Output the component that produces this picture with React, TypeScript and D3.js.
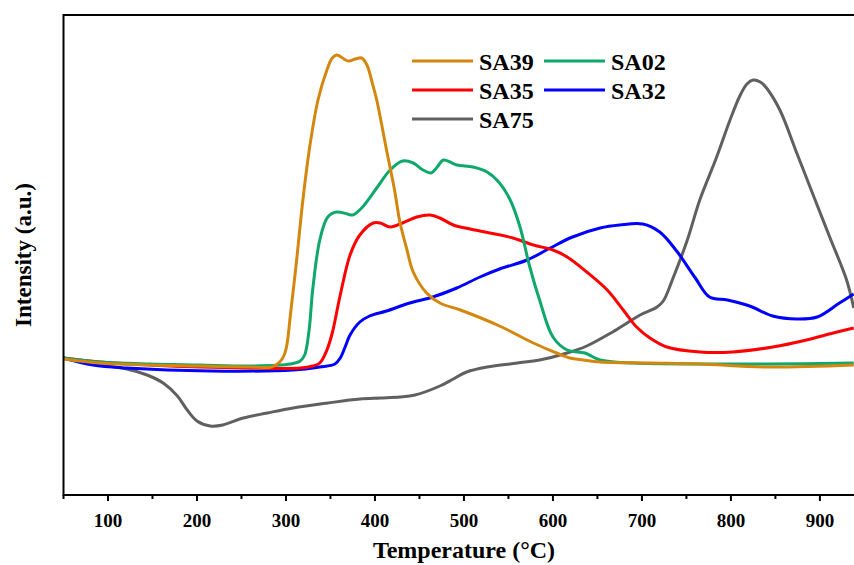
import React, { useEffect, useRef } from 'react';
import * as d3 from 'd3';

// TPR profiles, temperature in °C, intensity in arbitrary units
const series = ['SA39', 'SA02', 'SA35', 'SA32', 'SA75'];
const colors = { SA39: '#D4870E', SA02: '#0DA86A', SA35: '#FF0000', SA32: '#0000FF', SA75: '#606060' };

const sa39T = [50, 91, 147, 203, 260, 284, 293, 298, 301, 305, 312, 319, 327, 336, 346, 352, 357, 370, 378, 385, 391, 397, 402, 413, 422, 428, 436, 443, 458, 473, 496, 540, 578, 604, 619, 634, 653, 709, 765, 840, 938];
const sa39I = [136, 132, 130, 129, 128, 128, 133, 140, 150, 180, 235, 295, 350, 395, 425, 437, 440, 434, 436, 437, 430, 412, 395, 345, 305, 273, 245, 223, 202, 192, 185, 169, 152, 142, 137, 135, 133, 132, 131, 128, 130];

const sa02T = [50, 91, 147, 203, 260, 305, 316, 321, 326, 330, 338, 347, 357, 369, 375, 385, 402, 417, 431, 443, 454, 463, 470, 477, 492, 510, 526, 540, 552, 563, 574, 585, 600, 616, 636, 653, 690, 765, 840, 938];
const sa02I = [137, 133, 131, 130, 129, 131, 134, 140, 165, 205, 255, 278, 283, 281, 280, 287, 307, 325, 334, 332, 325, 322, 328, 335, 330, 328, 323, 312, 295, 268, 228, 195, 158, 145, 142, 135, 132, 131, 131, 132];

const sa35T = [50, 91, 147, 203, 260, 316, 330, 338, 346, 352, 361, 372, 383, 398, 406, 417, 431, 447, 462, 473, 488, 507, 529, 555, 578, 600, 616, 638, 661, 679, 694, 709, 728, 765, 802, 847, 885, 915, 938];
const sa35I = [137, 133, 130, 128, 127, 127, 129, 132, 145, 162, 200, 240, 260, 272, 272, 268, 272, 278, 280, 277, 270, 266, 262, 257, 250, 245, 238, 223, 205, 185, 168, 157, 148, 143, 143, 148, 155, 162, 167];

const sa32T = [50, 83, 121, 215, 308, 338, 355, 361, 366, 372, 383, 394, 413, 439, 465, 492, 518, 540, 571, 597, 622, 653, 675, 701, 720, 739, 760, 776, 796, 821, 847, 874, 897, 922, 938];
const sa32I = [137, 130, 127, 124, 125, 128, 131, 137, 147, 160, 173, 179, 184, 192, 198, 207, 218, 226, 235, 247, 258, 267, 270, 271, 263, 244, 217, 198, 195, 189, 179, 176, 178, 192, 201];

const sa75T = [50, 83, 121, 144, 162, 178, 189, 200, 215, 229, 252, 279, 308, 347, 383, 406, 428, 445, 473, 488, 503, 526, 560, 585, 616, 638, 667, 698, 717, 724, 735, 751, 765, 784, 799, 810, 818, 825, 833, 840, 855, 874, 892, 911, 930, 938];
const sa75I = [137, 131, 126, 120, 112, 99, 85, 74, 69, 70, 77, 82, 87, 92, 96, 97, 98, 100, 109, 116, 123, 128, 132, 135, 142, 149, 163, 180, 188, 194, 217, 255, 295, 338, 375, 399, 411, 415, 413, 407, 385, 342, 301, 258, 215, 187];

const xTicks = [100, 200, 300, 400, 500, 600, 700, 800, 900];
const xMinorTicks = [50, 150, 250, 350, 450, 550, 650, 750, 850];

const dataBy = {
  SA39: [sa39T, sa39I],
  SA02: [sa02T, sa02I],
  SA35: [sa35T, sa35I],
  SA32: [sa32T, sa32I],
  SA75: [sa75T, sa75I],
};

const W = 854;
const H = 565;
const margin = { left: 63.5, top: 15, right: -1.5, bottom: 70 };
const font = '"Times New Roman", "Liberation Serif", serif';

export default function App() {
  const ref = useRef(null);

  useEffect(() => {
    const svg = d3.select(ref.current);
    svg.selectAll('*').remove();

    const x = d3.scaleLinear().domain([50, 940]).range([margin.left, W - margin.right]);
    const y = d3.scaleLinear().domain([0, 480]).range([H - margin.bottom, margin.top]);
    const x0 = margin.left;
    const x1 = W;
    const y0 = H - margin.bottom;
    const y1 = margin.top;

    svg.append('clipPath').attr('id', 'plot-clip')
      .append('rect').attr('x', x0).attr('y', y1).attr('width', x1 - x0).attr('height', y0 - y1);

    const line = d3.line()
      .x(d => x(d[0]))
      .y(d => y(d[1]))
      .curve(d3.curveCatmullRom.alpha(0.5));

    // draw order: gray at the back, orange on top
    const drawOrder = ['SA75', 'SA32', 'SA35', 'SA02', 'SA39'];
    const curves = svg.append('g').attr('clip-path', 'url(#plot-clip)');
    drawOrder.forEach(name => {
      const [ts, is] = dataBy[name];
      const pts = ts.map((t, i) => [t, is[i]]);
      curves.append('path')
        .attr('d', line(pts))
        .attr('fill', 'none')
        .attr('stroke', colors[name])
        .attr('stroke-width', 3)
        .attr('stroke-linejoin', 'round');
    });

    // frame (left, top, bottom)
    const frame = svg.append('g').attr('stroke', '#000').attr('stroke-width', 2).attr('fill', 'none');
    frame.append('path').attr('d', `M${x1},${y1}H${x0}V${y0}H${x1}`).attr('stroke-linecap', 'square');

    frame.selectAll('.major').data(xTicks).join('line')
      .attr('x1', d => x(d)).attr('x2', d => x(d))
      .attr('y1', y0).attr('y2', y0 + 6);
    frame.selectAll('.minor').data(xMinorTicks).join('line')
      .attr('class', 'minor')
      .attr('x1', d => x(d)).attr('x2', d => x(d))
      .attr('y1', y0).attr('y2', y0 + 4);

    svg.append('g').selectAll('text').data(xTicks).join('text')
      .attr('x', d => x(d))
      .attr('y', y0 + 32)
      .attr('text-anchor', 'middle')
      .attr('font-family', font)
      .attr('font-weight', 'bold')
      .attr('font-size', 19)
      .text(d => d);

    svg.append('text')
      .attr('x', 464)
      .attr('y', 558)
      .attr('text-anchor', 'middle')
      .attr('font-family', font)
      .attr('font-weight', 'bold')
      .attr('font-size', 24)
      .text('Temperature (°C)');

    svg.append('text')
      .attr('transform', `translate(31, 255) rotate(-90)`)
      .attr('text-anchor', 'middle')
      .attr('font-family', font)
      .attr('font-weight', 'bold')
      .attr('font-size', 23)
      .text('Intensity (a.u.)');

    // legend
    const legendPos = {
      SA39: [412, 61], SA02: [544, 61],
      SA35: [412, 90], SA32: [544, 90],
      SA75: [412, 119],
    };
    const legend = svg.append('g');
    series.forEach(name => {
      const [lx, ly] = legendPos[name];
      legend.append('line')
        .attr('x1', lx).attr('x2', lx + 61)
        .attr('y1', ly).attr('y2', ly)
        .attr('stroke', colors[name])
        .attr('stroke-width', 3);
      legend.append('text')
        .attr('x', lx + 67)
        .attr('y', ly + 9)
        .attr('font-family', font)
        .attr('font-weight', 'bold')
        .attr('font-size', 24)
        .text(name);
    });
  }, []);

  return (
    <svg ref={ref} width={W} height={H}
      style={{ position: 'absolute', left: 0, top: 0, background: '#fff' }} />
  );
}
